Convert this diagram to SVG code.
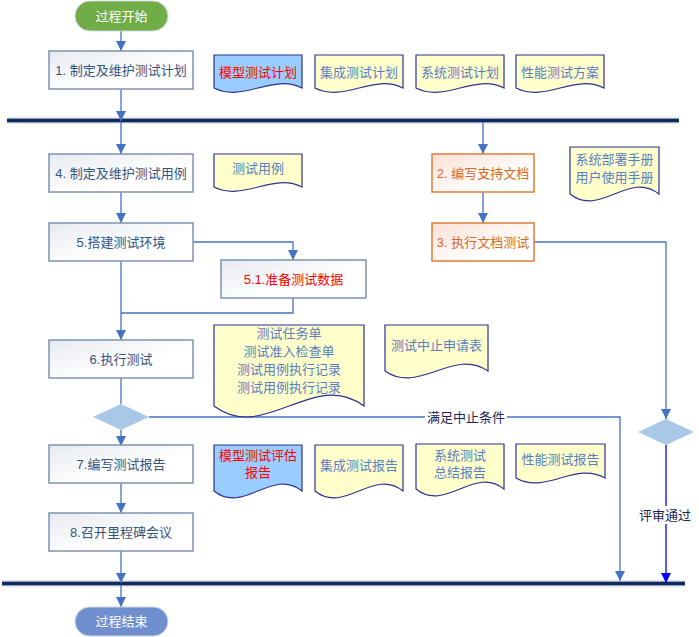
<svg xmlns="http://www.w3.org/2000/svg" width="699" height="637" viewBox="0 0 699 637">
<defs>
<linearGradient id="gBox" x1="0" y1="0" x2="1" y2="1">
<stop offset="0" stop-color="#E6EAF1"/>
<stop offset="0.6" stop-color="#FFFFFF"/>
</linearGradient>
<linearGradient id="gOrg" x1="0" y1="0" x2="1" y2="1">
<stop offset="0" stop-color="#FBE1D6"/>
<stop offset="0.7" stop-color="#FFFFFF"/>
</linearGradient>
<marker id="arr" viewBox="0 0 10 10" refX="10" refY="5" markerWidth="10" markerHeight="10" markerUnits="userSpaceOnUse" orient="auto">
<path d="M0,0 L10,5 L0,10 Z" fill="#4472C4"/>
</marker>
<marker id="arrB" viewBox="0 0 10 10" refX="10" refY="5" markerWidth="10" markerHeight="10" markerUnits="userSpaceOnUse" orient="auto">
<path d="M0,0 L10,5 L0,10 Z" fill="#0000FF"/>
</marker>
</defs>
<style>
text{font-family:"Liberation Sans","Noto Sans CJK SC",sans-serif;font-size:13px;text-anchor:middle;dominant-baseline:central}
.box{fill:url(#gBox);stroke:#7F93AE;stroke-width:1.5}
.obox{fill:url(#gOrg);stroke:#E07B39;stroke-width:1.5}
.bt{fill:#34557F}
.ot{fill:#D8691E}
.red{fill:#FF0000}
.doc{fill:#FFFFCC;stroke:#2E3192;stroke-width:1.2}
.bdoc{fill:#99CCFF;stroke:#2E3192;stroke-width:1.2}
.dt{fill:#5B7EC0}
.pill{stroke:#D0D8E0;stroke-width:1}
.pt{fill:#FFFFFF}
.dia{fill:#A9C8E8}
.con{fill:none;stroke:#4472C4;stroke-width:1.3}
.conb{fill:none;stroke:#0000FF;stroke-width:1.3}
.lbl{fill:#1A2450}
.bar1{stroke:#C5CEDA;stroke-width:6}
.bar2{stroke:#0E2A5E;stroke-width:3.5}
</style>
<g id="bars">
<line class="bar1" x1="7" y1="120.5" x2="679" y2="120.5"/>
<line class="bar2" x1="7" y1="120.5" x2="679" y2="120.5"/>
<line class="bar1" x1="2" y1="583.5" x2="685" y2="583.5"/>
<line class="bar2" x1="2" y1="583.5" x2="685" y2="583.5"/>
</g>
<g id="connectors">
<path class="con" d="M121 31 V51" marker-end="url(#arr)"/>
<path class="con" d="M121 89 V121" marker-end="url(#arr)"/>
<path class="con" d="M121 122 V154" marker-end="url(#arr)"/>
<path class="con" d="M121 192 V223" marker-end="url(#arr)"/>
<path class="con" d="M193 242 H293 V260" marker-end="url(#arr)"/>
<path class="con" d="M121 261 V340" marker-end="url(#arr)"/>
<path class="con" d="M293 298 V313 H121"/>
<path class="con" d="M483 122 V154" marker-end="url(#arr)"/>
<path class="con" d="M483 192 V223" marker-end="url(#arr)"/>
<path class="con" d="M534 242 H666 V419" marker-end="url(#arr)"/>
<path class="con" d="M121 378 V404"/>
<path class="con" d="M121 430 V446" marker-end="url(#arr)"/>
<path class="con" d="M149 417 H620 V581" marker-end="url(#arr)"/>
<path class="con" d="M121 483 V513" marker-end="url(#arr)"/>
<path class="con" d="M121 551 V583" marker-end="url(#arr)"/>
<path class="con" d="M121 585 V607" marker-end="url(#arr)"/>
<path class="conb" d="M666 445 V583" marker-end="url(#arrB)"/>
<rect x="425" y="409" width="82" height="16" fill="#FFFFFF"/>
<text class="lbl" x="466" y="417">满足中止条件</text>
<rect x="637" y="506" width="56" height="18" fill="#FFFFFF"/>
<text class="lbl" x="665" y="515">评审通过</text>
</g>
<g id="start">
<rect class="pill" x="75" y="1" width="93" height="30" rx="15" fill="#70AD47"/>
<text class="pt" x="121.5" y="16">过程开始</text>
</g>
<g id="end">
<rect class="pill" x="75" y="607" width="93" height="29" rx="14.5" fill="#6F8FCF"/>
<text class="pt" x="121.5" y="621.5">过程结束</text>
</g>
<g id="n1">
<rect class="box" x="49" y="51" width="144" height="38"/>
<text class="bt" x="121" y="70">1. 制定及维护测试计划</text>
</g>
<g id="n4">
<rect class="box" x="49" y="154" width="144" height="38"/>
<text class="bt" x="121" y="173">4. 制定及维护测试用例</text>
</g>
<g id="n5">
<rect class="box" x="49" y="223" width="144" height="38"/>
<text class="bt" x="121" y="242">5.搭建测试环境</text>
</g>
<g id="n51">
<rect class="box" x="221" y="260" width="145" height="38"/>
<text class="red" x="293.5" y="279">5.1.准备测试数据</text>
</g>
<g id="n6">
<rect class="box" x="49" y="340" width="144" height="38"/>
<text class="bt" x="121" y="359">6.执行测试</text>
</g>
<g id="n7">
<rect class="box" x="49" y="445" width="144" height="38"/>
<text class="bt" x="121" y="464">7.编写测试报告</text>
</g>
<g id="n8">
<rect class="box" x="49" y="513" width="144" height="38"/>
<text class="bt" x="121" y="532">8.召开里程碑会议</text>
</g>
<g id="n2">
<rect class="obox" x="432" y="154" width="102" height="38"/>
<text class="ot" x="483" y="173">2. 编写支持文档</text>
</g>
<g id="n3">
<rect class="obox" x="432" y="223" width="102" height="38"/>
<text class="ot" x="483" y="242">3. 执行文档测试</text>
</g>
<g id="d1">
<polygon class="dia" points="121,404 149,417 121,430 93,417"/>
</g>
<g id="d2">
<polygon class="dia" points="666,419 694,432 666,445 638,432"/>
</g>
<g id="doc1">
<path class="bdoc" d="M214 55 H302 V88 C272.7 73 243.3 103 214 88 Z"/>
<text class="red" x="258" y="72">模型测试计划</text>
</g>
<g id="doc2">
<path class="doc" d="M315 55 H403 V88 C373.7 73 344.3 103 315 88 Z"/>
<text class="dt" x="359" y="72">集成测试计划</text>
</g>
<g id="doc3">
<path class="doc" d="M416 55 H504 V88 C474.7 73 445.3 103 416 88 Z"/>
<text class="dt" x="460" y="72">系统测试计划</text>
</g>
<g id="doc4">
<path class="doc" d="M516 55 H604 V88 C574.7 73 545.3 103 516 88 Z"/>
<text class="dt" x="560" y="72">性能测试方案</text>
</g>
<g id="doc5">
<path class="doc" d="M214 154 H302 V187 C272.7 172 243.3 202 214 187 Z"/>
<text class="dt" x="258" y="168">测试用例</text>
</g>
<g id="doc6">
<path class="doc" d="M570 147 H659 V194 C629.3 170 599.7 218 570 194 Z"/>
<text class="dt" x="614.5" y="159">系统部署手册</text>
<text class="dt" x="614.5" y="177">用户使用手册</text>
</g>
<g id="doc7">
<path class="doc" d="M214 325 H364 V406 C314 368 264 444 214 406 Z"/>
<text class="dt" x="289" y="333">测试任务单</text>
<text class="dt" x="289" y="351">测试准入检查单</text>
<text class="dt" x="289" y="369">测试用例执行记录</text>
<text class="dt" x="289" y="387">测试用例执行记录</text>
</g>
<g id="doc8">
<path class="doc" d="M385 325 H488 V371 C453.7 347 419.3 395 385 371 Z"/>
<text class="dt" x="436.5" y="345">测试中止申请表</text>
</g>
<g id="doc9">
<path class="bdoc" d="M214 445 H302 V491 C272.7 467 243.3 515 214 491 Z"/>
<text class="red" x="258" y="455">模型测试评估</text>
<text class="red" x="258" y="472">报告</text>
</g>
<g id="doc10">
<path class="doc" d="M315 445 H403 V491 C373.7 467 344.3 515 315 491 Z"/>
<text class="dt" x="359" y="465">集成测试报告</text>
</g>
<g id="doc11">
<path class="doc" d="M416 444 H504 V489 C474.7 465 445.3 513 416 489 Z"/>
<text class="dt" x="460" y="455">系统测试</text>
<text class="dt" x="460" y="472">总结报告</text>
</g>
<g id="doc12">
<path class="doc" d="M516 444 H605 V478 C575.3 461 545.7 495 516 478 Z"/>
<text class="dt" x="560.5" y="459">性能测试报告</text>
</g>
</svg>
